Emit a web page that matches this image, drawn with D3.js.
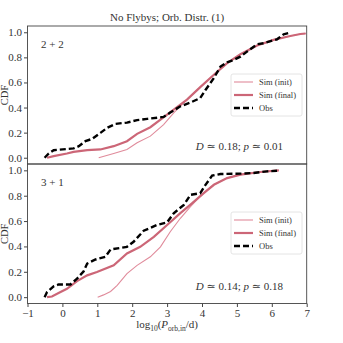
<!DOCTYPE html>
<html lang="en">
<head>
<meta charset="utf-8">
<title>CDF panels</title>
<script src="https://d3js.org/d3.v7.min.js"></script>
<style>
  body { margin: 0; background: #fff; }
  svg text { font-family: "Liberation Serif", "DejaVu Serif", serif; fill: #333; }
</style>
</head>
<body>
<div id="chart"></div>
<script>
// values: [log10 P, CDF]
var obsTop = [[-0.51,0],[-0.39,0.034],[-0.25,0.06],[0.32,0.074],[0.47,0.092],[0.66,0.132],[0.85,0.15],[1.09,0.198],[1.28,0.238],[1.52,0.27],[1.85,0.28],[2.14,0.30],[2.43,0.31],[2.90,0.325],[3.09,0.36],[3.38,0.41],[3.67,0.44],[3.95,0.476],[4.1,0.54],[4.34,0.635],[4.53,0.727],[4.72,0.76],[4.91,0.78],[5.1,0.806],[5.29,0.846],[5.58,0.905],[5.77,0.913],[6.15,0.944],[6.34,0.984],[6.53,0.997]];
var finalTop = [[-0.44,0],[-0.25,0.013],[0.13,0.034],[0.32,0.047],[0.71,0.06],[1.09,0.066],[1.47,0.092],[1.85,0.132],[2.14,0.19],[2.52,0.243],[2.81,0.304],[3.19,0.383],[3.57,0.463],[3.95,0.563],[4.34,0.661],[4.72,0.754],[5.1,0.825],[5.58,0.894],[6.05,0.939],[6.53,0.97],[6.82,0.986],[6.97,0.99]];
var initTop = [[1.04,0],[1.47,0.034],[1.85,0.066],[2.14,0.119],[2.52,0.172],[2.90,0.264],[3.19,0.357],[3.57,0.463],[3.95,0.563],[4.34,0.661],[4.72,0.754],[5.1,0.825],[5.58,0.894],[6.05,0.939],[6.53,0.97],[6.82,0.986],[6.97,0.99]];

var obsBot = [[-0.51,0],[-0.44,0.04],[-0.25,0.085],[-0.11,0.10],[0.23,0.10],[0.42,0.146],[0.61,0.204],[0.71,0.265],[0.95,0.297],[1.23,0.318],[1.38,0.376],[1.85,0.397],[2.04,0.437],[2.33,0.524],[2.71,0.569],[3.0,0.59],[3.19,0.662],[3.48,0.728],[3.67,0.807],[3.95,0.82],[4.1,0.886],[4.29,0.958],[4.53,0.971],[5.1,0.974],[5.48,0.979],[5.86,0.992],[6.15,0.997]];
var finalBot = [[-0.44,0],[-0.3,0.005],[-0.11,0.032],[0.13,0.066],[0.42,0.127],[0.71,0.172],[0.99,0.198],[1.47,0.251],[1.85,0.344],[2.23,0.397],[2.62,0.476],[3.0,0.569],[3.38,0.662],[3.72,0.741],[4.05,0.82],[4.34,0.886],[4.72,0.939],[5.1,0.966],[5.67,0.987],[6.2,1.0]];
var initBot = [[1.01,0],[1.18,0.018],[1.38,0.045],[1.57,0.093],[1.85,0.185],[2.14,0.251],[2.52,0.318],[2.81,0.397],[3.09,0.516],[3.38,0.622],[3.67,0.714],[3.95,0.794],[4.05,0.82],[4.34,0.886],[4.72,0.939],[5.1,0.966],[5.67,0.987],[6.2,1.0]];

var xTicks = [-1, 0, 1, 2, 3, 4, 5, 6, 7];
var yTicks = [0, 0.2, 0.4, 0.6, 0.8, 1.0];
var legendLabels = ["Sim (init)", "Sim (final)", "Obs"];

var panels = [
  { name: "2 + 2", top: 26, bottom: 164, obs: obsTop, fin: finalTop, init: initTop, D: "0.18", p: "0.01", xlabels: false },
  { name: "3 + 1", top: 164, bottom: 303.5, obs: obsBot, fin: finalBot, init: initBot, D: "0.14", p: "0.18", xlabels: true }
];

var W = 343, H = 343;
var left = 27.5, right = 306.7;
var initColor = "#e08b9b", finalColor = "#cc6677";

var svg = d3.select("#chart").append("svg").attr("width", W).attr("height", H);

var x = d3.scaleLinear().domain([-1, 7]).range([left, right]);

svg.append("text").attr("x", (left + right) / 2).attr("y", 21)
  .attr("text-anchor", "middle").attr("font-size", 11).text("No Flybys; Orb. Distr. (1)");

panels.forEach(function(pn) {
  var y = d3.scaleLinear().domain([-0.05, 1.05]).range([pn.bottom, pn.top]);
  var g = svg.append("g");

  var line = d3.line().x(function(d) { return x(d[0]); }).y(function(d) { return y(d[1]); });

  g.append("path").datum(pn.init).attr("d", line).attr("fill", "none")
    .attr("stroke", initColor).attr("stroke-width", 1.1);
  g.append("path").datum(pn.fin).attr("d", line).attr("fill", "none")
    .attr("stroke", finalColor).attr("stroke-width", 2.2);
  g.append("path").datum(pn.obs).attr("d", line).attr("fill", "none")
    .attr("stroke", "#000").attr("stroke-width", 2.4).attr("stroke-dasharray", "6,3");

  // frame
  g.append("rect").attr("x", left).attr("y", pn.top).attr("width", right - left)
    .attr("height", pn.bottom - pn.top).attr("fill", "none").attr("stroke", "#444").attr("stroke-width", 0.9);

  var yAxis = d3.axisLeft(y).tickValues(yTicks).tickFormat(d3.format(".1f")).tickSize(3.5).tickPadding(2);
  var ya = g.append("g").attr("transform", "translate(" + left + ",0)").call(yAxis);
  ya.select(".domain").remove();
  ya.selectAll("line").attr("stroke", "#444");
  ya.selectAll("text").attr("font-size", 11).attr("fill", "#333")
    .style("font-family", "'Liberation Serif', serif");

  if (pn.xlabels) {
    var xAxis = d3.axisBottom(x).tickValues(xTicks).tickFormat(function(d) { return d < 0 ? "\u2212" + (-d) : d; }).tickSize(3.5).tickPadding(2);
    var xa = g.append("g").attr("transform", "translate(0," + pn.bottom + ")").call(xAxis);
    xa.select(".domain").remove();
    xa.selectAll("line").attr("stroke", "#444");
    xa.selectAll("text").attr("font-size", 11).attr("fill", "#333")
      .style("font-family", "'Liberation Serif', serif");
  }

  // y label sits in the gap between the 0.4 and 0.6 tick labels
  g.append("text").attr("transform", "translate(4," + y(0.5) + ") rotate(-90)")
    .attr("text-anchor", "middle").attr("dy", "0.35em").attr("font-size", 10.5).text("CDF");

  g.append("text").attr("x", 41).attr("y", pn.top + 22).attr("font-size", 11).text(pn.name);

  var ann = g.append("text").attr("x", 283).attr("y", pn.bottom - 14).attr("text-anchor", "end").attr("font-size", 11);
  ann.append("tspan").attr("font-style", "italic").text("D");
  ann.append("tspan").text(" \u2243 " + pn.D + "; ");
  ann.append("tspan").attr("font-style", "italic").text("p");
  ann.append("tspan").text(" \u2243 " + pn.p);

  // legend
  var ly = pn.top + 48;
  var lg = g.append("g").attr("transform", "translate(231," + ly + ")");
  lg.append("rect").attr("width", 71).attr("height", 42).attr("rx", 2)
    .attr("fill", "#fff").attr("fill-opacity", 0.85).attr("stroke", "#ddd").attr("stroke-width", 0.8);
  var styles = [
    { c: initColor, w: 1.1, dash: null },
    { c: finalColor, w: 2.2, dash: null },
    { c: "#000", w: 2.4, dash: "6,3" }
  ];
  legendLabels.forEach(function(lab, i) {
    var yy = 8 + i * 13;
    var ln = lg.append("line").attr("x1", 3).attr("x2", 22).attr("y1", yy).attr("y2", yy)
      .attr("stroke", styles[i].c).attr("stroke-width", styles[i].w);
    if (styles[i].dash) ln.attr("stroke-dasharray", styles[i].dash);
    lg.append("text").attr("x", 28).attr("y", yy).attr("dy", "0.35em").attr("font-size", 8.5).text(lab);
  });
});

var xl = svg.append("text").attr("x", (left + right) / 2).attr("y", 328).attr("text-anchor", "middle").attr("font-size", 11);
xl.append("tspan").text("log");
xl.append("tspan").attr("font-size", 7.5).attr("dy", 3).text("10");
xl.append("tspan").attr("dy", -3).text("(");
xl.append("tspan").attr("font-style", "italic").text("P");
xl.append("tspan").attr("font-size", 7.5).attr("dy", 3).text("orb,in");
xl.append("tspan").attr("dy", -3).text("/d)");
</script>
</body>
</html>
